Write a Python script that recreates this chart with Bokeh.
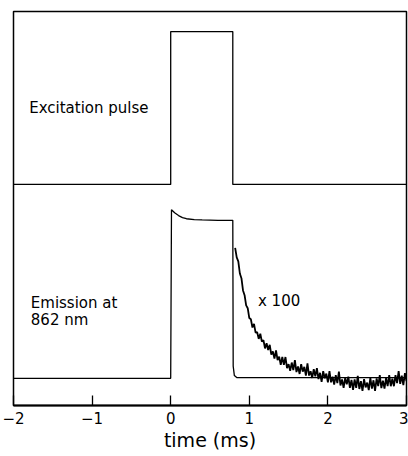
from bokeh.plotting import figure
from bokeh.models import Range1d, FixedTicker, ColumnDataSource
from bokeh.core.properties import value
from bokeh.embed import file_html
from bokeh.resources import INLINE

# Excitation pulse trace (time in ms, arbitrary signal units)
exc_t = [-2.0, 0.0, 0.0, 0.79, 0.79, 3.0]
exc_y = [56.1, 56.1, 94.9, 94.9, 56.1, 56.1]

# Emission at 862 nm (raw)
em_t = [-2.0, 0.0, 0.01, 0.05, 0.10, 0.15, 0.20, 0.30, 0.40, 0.60, 0.79, 0.795, 0.81, 0.84, 3.0]
em_y = [6.9, 6.9, 49.7, 48.9, 48.2, 47.7, 47.4, 47.2, 47.1, 47.0, 47.0, 10.0, 7.6, 7.1, 7.1]

# Emission tail magnified x 100
tail_t = [round(0.82 + 0.02 * i, 2) for i in range(110)]
tail_y = [40.0, 37.6, 36.6, 33.5, 32.3, 29.2, 28.0, 25.4, 24.7, 22.2,
          21.9, 19.8, 20.7, 18.5, 18.6, 16.9, 18.2, 16.2, 16.6, 14.5,
          15.8, 14.1, 15.4, 12.9, 13.7, 11.9, 14.0, 11.5, 12.4, 10.3,
          12.3, 10.3, 12.3, 9.5, 10.5, 8.8, 10.9, 9.0, 11.5, 8.5,
          9.9, 8.0, 10.5, 8.6, 9.8, 7.6, 10.7, 7.6, 8.7, 7.0,
          9.2, 7.4, 9.5, 6.7, 8.3, 6.0, 8.7, 6.9, 8.1, 5.9,
          8.7, 5.9, 7.3, 5.3, 7.7, 5.7, 8.6, 5.1, 6.6, 4.5,
          7.0, 5.4, 7.3, 4.5, 6.5, 4.0, 6.6, 4.5, 7.5, 4.2,
          6.2, 3.7, 6.7, 4.6, 5.8, 3.9, 7.0, 4.3, 6.4, 3.7,
          6.9, 4.9, 7.7, 4.4, 6.3, 4.3, 7.0, 4.9, 7.7, 4.9,
          6.8, 4.9, 7.7, 5.7, 8.7, 5.5, 7.6, 5.2, 8.2, 6.2]

x_ticks = [-2, -1, 0, 1, 2, 3]
x_tick_labels = {-2: "\u22122", -1: "\u22121", 0: "0", 1: "1", 2: "2", 3: "3"}

labels_text = ["Excitation pulse", "Emission at", "862 nm", "x 100"]
labels_x = [-1.80, -1.78, -1.78, 1.11]
labels_y = [75.4, 26.1, 21.6, 26.6]

FONT = "DejaVu Sans"

p = figure(width=408, height=456, output_backend="svg", toolbar_location=None,
           x_range=Range1d(-2, 3), y_range=Range1d(0, 100),
           min_border_left=13, min_border_right=2, min_border_top=11, min_border_bottom=51)

p.line(exc_t, exc_y, line_color="black", line_width=1.3)
p.line(em_t, em_y, line_color="black", line_width=1.3)
p.line(tail_t, tail_y, line_color="black", line_width=1.8)

src = ColumnDataSource(dict(x=labels_x, y=labels_y, t=labels_text))
p.text(x="x", y="y", text="t", source=src, text_font=value(FONT),
       text_font_size="15px", text_color="black", text_baseline="alphabetic")

p.xgrid.visible = False
p.ygrid.visible = False
p.yaxis.visible = False
p.outline_line_color = "black"
p.outline_line_width = 1.5
p.outline_line_alpha = 1.0

ax = p.xaxis[0]
ax.ticker = FixedTicker(ticks=x_ticks)
ax.major_label_overrides = x_tick_labels
ax.major_tick_in = 10
ax.major_tick_out = 0
ax.minor_tick_in = 0
ax.minor_tick_out = 0
ax.major_tick_line_width = 1.3
ax.axis_line_width = 2
ax.axis_line_color = "black"
ax.major_label_text_font = FONT
ax.major_label_text_font_size = "15px"
ax.major_label_text_color = "black"
ax.major_label_standoff = 6
ax.axis_label = "time (ms)"
ax.axis_label_text_font = FONT
ax.axis_label_text_font_size = "19px"
ax.axis_label_text_font_style = "normal"
ax.axis_label_text_color = "black"
ax.axis_label_standoff = 2

open("out.html", "w").write(file_html(p, INLINE))
